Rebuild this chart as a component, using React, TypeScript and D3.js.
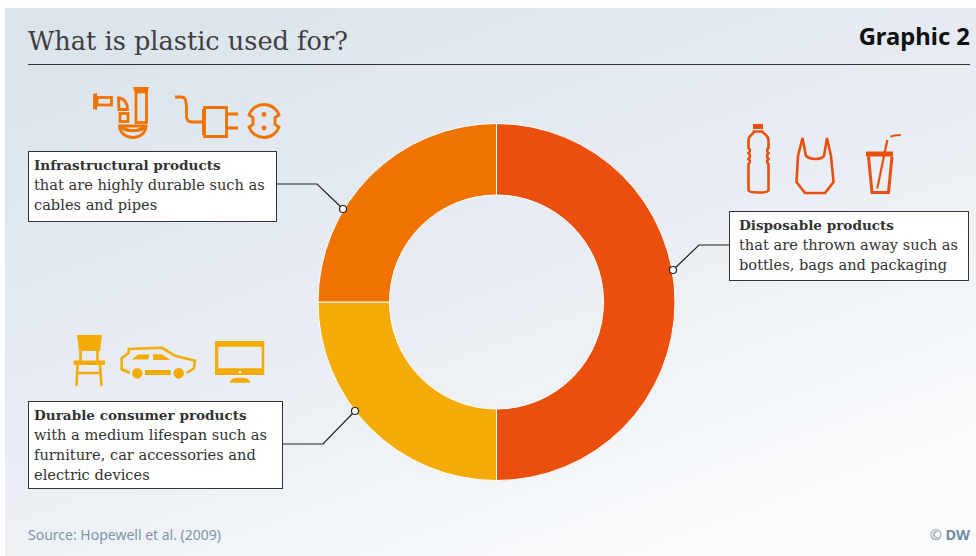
import React from "react";
import * as d3 from "d3";

const categories = ["Disposable products", "Durable consumer products", "Infrastructural products"];
const shares = [50, 25, 25];
const sliceColors = ["#EB4F0E", "#F4AB05", "#EF7300"];
const infoLines = [
  ["that are thrown away such as", "bottles, bags and packaging"],
  ["with a medium lifespan such as", "furniture, car accessories and", "electric devices"],
  ["that are highly durable such as", "cables and pipes"],
];
const boxes = [
  { x: 729, y: 211, w: 239, h: 69, pad: 10 },
  { x: 28, y: 401, w: 254, h: 87, pad: 6 },
  { x: 28, y: 151, w: 248, h: 70, pad: 6 },
];
const leaders = [
  [[729, 245], [699, 245], [673, 270]],
  [[282, 444], [323, 444], [355, 411]],
  [[276, 184], [317, 184], [343, 209]],
];
const SERIF = "'DejaVu Serif', serif";
const SANS = "'Noto Sans', 'Open Sans', sans-serif";
const cx = 496.5, cy = 302, R = 178.5, r = 107;

function InfraIcons({ c }: { c: string }) {
  return (
    <g stroke={c} fill="none" strokeWidth={2.8}>
      <path d="M93 94 L97 93 V110 L93 109 Z" fill={c} stroke="none" />
      <rect x={97} y={97.5} width={14.5} height={7.5} />
      <path d="M118.5 98 C124 98 127.5 103 127.5 109.5 L119 109.5 Z" />
      <rect x={120} y={113.5} width={8} height={8} />
      <path d="M133 87 H149 L147.5 92 H134.5 Z" fill={c} stroke="none" />
      <rect x={136} y={92} width={10.5} height={30.5} />
      <path d="M119.5 126 H146 C146 133 140 137.5 133 137.5 C126 137.5 119.5 133 119.5 126 Z" />
      <path d="M123 126 C128 131 138 131 143 126 L146 126 L146 128 C141 133 125 133 120 128 Z" fill={c} strokeWidth={1} />
      <path d="M175 97 H181 C186 97 186 101 186.5 107 V116 C186.5 120 188 122 192 122 H202" />
      <path d="M204.5 107.5 H226.5 V136.5 H204.5 Z" />
      <rect x={202} y={109} width={3.5} height={26} fill={c} stroke="none" />
      <path d="M227 114 H238 M227 128 H238" />
      <path d="M253 117.5 L249 115 C251 109 257 104.5 264 104.5 C271 104.5 277 109 279 115 L275 117.5 V124.5 L279 127 C277 133 271 137.5 264 137.5 C257 137.5 251 133 249 127 L253 124.5 Z" />
      <circle cx={264} cy={114.5} r={2.4} fill={c} stroke="none" />
      <circle cx={264} cy={128} r={2.4} fill={c} stroke="none" />
    </g>
  );
}

function DurableIcons({ c }: { c: string }) {
  return (
    <g stroke={c} fill="none" strokeWidth={2.6}>
      <path d="M77 335 H102 L100 351 H79 Z" fill={c} stroke="none" />
      <path d="M80.5 351 V361 M97.5 351 V361" />
      <rect x={73.5} y={360.5} width={31.5} height={4.5} fill={c} stroke="none" />
      <path d="M77.5 365 L76.5 386 M100 365 L101.5 386 M77 373 H101" />
      <path d="M130 373 L121.7 369.3 V358.3 L128.3 353.3 L129 349 L161.7 347.7 L175 355.7 L195 360.7 L194 368.3 L186.7 373" />
      <path d="M131.7 359.5 L138.3 354.5 H149.3 L148.3 359.5 Z M152.7 354.3 H161.7 L170.7 360 H153.3 Z" fill={c} stroke="none" />
      <circle cx={137.3} cy={373.3} r={5.2} fill={c} stroke="none" />
      <circle cx={178.7} cy={373.3} r={5.2} fill={c} stroke="none" />
      <rect x={145} y={370} width={25.7} height={5} fill={c} stroke="none" />
      <path fillRule="evenodd" d="M215 341 H264.3 V375 H215 Z M218.3 346.7 V368.3 H261.7 V346.7 Z" fill={c} stroke="none" />
      <circle cx={240} cy={372.2} r={1.2} fill="#fff" stroke="none" />
      <path d="M230 382.7 C230 379 234 377.7 240 377.7 C246 377.7 250 379 250 382.7 Z" fill={c} stroke="none" />
    </g>
  );
}

function DisposableIcons({ c }: { c: string }) {
  return (
    <g stroke={c} fill="none" strokeWidth={2.6}>
      <rect x={753} y={124} width={10} height={5} fill={c} stroke="none" />
      <path d="M754 131.5 H762.5 C763 134 768.5 135 768.5 140 V148 C766.5 150 766.5 151 768.5 153 C766.5 155 766.5 157 768.5 159 C766.5 161 766.5 162 768.5 164 V190 C768.5 192 764 192.5 758 192.5 C752 192.5 748.5 192 748.5 190 V164 C750.5 162 750.5 161 748.5 159 C750.5 157 750.5 155 748.5 153 C750.5 151 750.5 150 748.5 148 V140 C748.5 135 754 134 754 131.5 Z" />
      <path d="M798 156 L802.5 138 L806 156 C811 160 820 160 824 156 L827 138 L831 156 L833.5 182 L825 193 H805 L796.5 182 Z" />
      <rect x={866} y={151.5} width={27} height={5} fill={c} stroke="none" />
      <path d="M868.5 156.5 L872 192.5 H888.5 L892 156.5" strokeWidth={3} />
      <path d="M877.3 188.5 L887.3 140" strokeWidth={2.2} />
      <path d="M890.5 136.8 C893 135.5 897 135.2 900.7 135" strokeWidth={2.2} />
    </g>
  );
}

export default function App() {
  const pie = d3.pie<number>().value(d => d).sort(null).startAngle(0).endAngle(2 * Math.PI);
  const arc = d3.arc<d3.PieArcDatum<number>>().innerRadius(r).outerRadius(R);
  const arcs = pie(shares);
  const lineGen = d3.line();

  return (
    <svg width={976} height={556} style={{ position: "absolute", left: 0, top: 0 }}>
      <defs>
        <linearGradient id="bg" x1="0.1" y1="0" x2="0.75" y2="1">
          <stop offset="0" stopColor="#DBE3EB" />
          <stop offset="0.55" stopColor="#E9EEF4" />
          <stop offset="1" stopColor="#FBFCFD" />
        </linearGradient>
      </defs>
      <rect width={976} height={556} fill="#fff" />
      <rect x={5} y={8} width={971} height={548} fill="url(#bg)" />

      <text x={28} y={50} fontFamily={SERIF} fontSize={25.6} fill="#3f3f3f">What is plastic used for?</text>
      <text x={970} y={45} textAnchor="end" fontFamily={SANS} fontWeight={700} fontSize={23.8} fill="#111">Graphic 2</text>
      <line x1={28} x2={970} y1={64.5} y2={64.5} stroke="#333" strokeWidth={1} />

      <g transform={`translate(${cx},${cy})`}>
        {arcs.map((a, i) => (
          <path key={categories[i]} d={arc(a) ?? ""} fill={sliceColors[i]} stroke="#fff" strokeWidth={1} />
        ))}
      </g>

      <InfraIcons c={sliceColors[2]} />
      <DurableIcons c={sliceColors[1]} />
      <DisposableIcons c={sliceColors[0]} />

      {categories.map((name, i) => {
        const b = boxes[i];
        const pts = leaders[i] as [number, number][];
        const end = pts[pts.length - 1];
        return (
          <g key={name}>
            <path d={lineGen(pts) ?? ""} fill="none" stroke="#222" strokeWidth={1.2} />
            <circle cx={end[0]} cy={end[1]} r={3.5} fill="#fff" stroke="#222" strokeWidth={1.2} />
            <rect x={b.x + 0.5} y={b.y + 0.5} width={b.w} height={b.h} fill="#fff" stroke="#333" strokeWidth={1} />
            <text x={b.x + b.pad} y={b.y + 19} fontFamily={SERIF} fontWeight={700} fontSize={13.6} fill="#333">{name}</text>
            {infoLines[i].map((t, j) => (
              <text key={t} x={b.x + b.pad} y={b.y + 39 + j * 20} fontFamily={SERIF} fontSize={14.6} fill="#333">{t}</text>
            ))}
          </g>
        );
      })}

      <text x={28} y={540} fontFamily={SANS} fontSize={14} fill="#7F94A8">Source: Hopewell et al. (2009)</text>
      <text x={970} y={540} textAnchor="end" fontFamily={SANS} fontSize={14.5} fill="#7F94A8">
        © <tspan fontWeight={700} fill="#6F8CA8">DW</tspan>
      </text>
    </svg>
  );
}
